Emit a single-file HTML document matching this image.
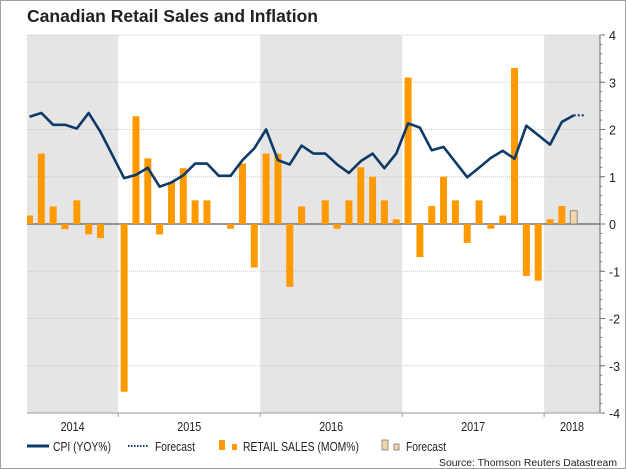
<!DOCTYPE html>
<html><head><meta charset="utf-8"><style>
body{margin:0;background:#fff;}
svg{display:block;font-family:"Liberation Sans",Arial,sans-serif;}
</style></head><body>
<svg id="chart" width="626" height="469" viewBox="0 0 626 469">
<rect x="0.5" y="0.5" width="625" height="468" fill="#fff" stroke="#a0a0a0"/>
<text x="27" y="22" font-size="17.5" font-weight="bold" fill="#222" textLength="291" lengthAdjust="spacingAndGlyphs">Canadian Retail Sales and Inflation</text>
<g id="bands"></g><g id="grid"></g><g id="bars"></g><g id="lines"></g><g id="axes"></g>
<g font-size="13" fill="#222">
<line x1="27" y1="446" x2="49" y2="446" stroke="#0d3a66" stroke-width="3"/>
<text x="53" y="451" textLength="58" lengthAdjust="spacingAndGlyphs">CPI (YOY%)</text>
<line x1="128" y1="446" x2="148" y2="446" stroke="#0d3a66" stroke-width="2" stroke-dasharray="1.5,1.5"/>
<text x="155" y="451" textLength="40" lengthAdjust="spacingAndGlyphs">Forecast</text>
<rect x="219" y="440" width="6" height="10" fill="#ff9900"/>
<rect x="232" y="444" width="5" height="6" fill="#ff9900"/>
<text x="243" y="451" textLength="116" lengthAdjust="spacingAndGlyphs">RETAIL SALES (MOM%)</text>
<rect x="382" y="440" width="6" height="10" fill="#f2d5a8" stroke="#777" stroke-width="0.8"/>
<rect x="394" y="444" width="5" height="6" fill="#f2d5a8" stroke="#777" stroke-width="0.8"/>
<text x="406" y="451" textLength="40" lengthAdjust="spacingAndGlyphs">Forecast</text>
</g>
<text x="617" y="466" font-size="10.5" fill="#222" text-anchor="end" textLength="178" lengthAdjust="spacingAndGlyphs">Source: Thomson Reuters Datastream</text>
</svg>
<script>
const years=["2014","2015","2016","2017","2018"];
const yTicks=[-4,-3,-2,-1,0,1,2,3,4];
// months from May 2014 to Mar 2018
const retail=[0.18,1.49,0.37,-0.11,0.5,-0.22,-0.3,0,
-3.55,2.28,1.39,-0.22,0.89,1.18,0.5,0.5,0,-0.1,1.28,-0.92,
1.49,1.49,-1.33,0.37,0,0.5,-0.1,0.5,1.2,1.0,0.5,0.1,
3.1,-0.7,0.38,1.0,0.5,-0.4,0.5,-0.1,0.18,3.3,-1.1,-1.2,
0.1,0.38];
const retailForecast=[0.28];
const cpi=[2.27,2.35,2.1,2.1,2.02,2.35,1.95,1.46,
0.97,1.04,1.19,0.79,0.88,1.03,1.28,1.28,1.02,1.02,1.35,1.6,
2.0,1.35,1.26,1.66,1.49,1.49,1.26,1.08,1.33,1.49,1.18,1.49,
2.13,2.04,1.56,1.63,1.31,0.99,1.19,1.4,1.55,1.38,2.08,1.88,
1.68,2.16,2.3];
const cpiForecast=[2.3,2.3];
const NS="http://www.w3.org/2000/svg";
const PL=27,PR=600,PT=35,PB=413,MW=11.83,X0=29.5;
const x=i=>X0+i*MW;
const y=v=>224-v*47.25;
function mk(tag,attrs,parent){const e=document.createElementNS(NS,tag);for(const k in attrs)e.setAttribute(k,attrs[k]);document.getElementById(parent).appendChild(e);return e;}
const yStart=i=>x(-4)-MW/2+i*12*MW;
years.forEach((yr,i)=>{
  const a=Math.max(PL,yStart(i)),b=Math.min(PR,yStart(i+1));
  if(i%2===0){const r=mk('rect',{x:a,y:PT,width:b-a,height:PB-PT,fill:'#e5e5e5'},'bands');
  
  }
  const t=mk('text',{x:(a+b)/2,y:431,'font-size':12.5,'text-anchor':'middle',fill:'#222',textLength:24,lengthAdjust:'spacingAndGlyphs'},'axes');t.textContent=yr;
  
  
  if(i>0){const tk=mk('line',{x1:a,x2:a,y1:PB,y2:PB+4,stroke:'#999'},'axes');
  
  }
});
yTicks.forEach(v=>{
  if(v!==0&&Math.abs(v)!==4){const g=mk('line',{x1:PL,x2:PR,y1:y(v),y2:y(v),stroke:'#c8c8c8','stroke-dasharray':'1,1'},'grid');
  
  }
  const t=mk('text',{x:609,y:y(v)+5,'font-size':12.5,fill:'#222'},'axes');t.textContent=v;
  
  
  const tk=mk('line',{x1:PR,x2:PR+5,y1:y(v),y2:y(v),stroke:'#666'},'axes');
  
  
});
for(let v=-4;v<=4.001;v+=0.2){const m=mk('line',{x1:PR,x2:PR+2.5,y1:y(v),y2:y(v),stroke:'#888'},'axes');

}
const topLine=mk('line',{x1:PL,x2:PR,y1:PT,y2:PT,stroke:'#ccc','stroke-dasharray':'1,1'},'grid');


const ax=mk('line',{x1:PR,x2:PR,y1:PT,y2:PB,stroke:'#666'},'axes');


const bx=mk('line',{x1:PL,x2:PR,y1:PB,y2:PB,stroke:'#999'},'axes');


const zl=mk('line',{x1:PL,x2:PR,y1:y(0),y2:y(0),stroke:'#777','stroke-width':1.5},'grid');


const bw=7;
retail.forEach((v,i)=>{
  if(v===0)return;
  let a=x(i)-bw/2,w=bw;if(a<PL){w-=PL-a;a=PL;}
  const r=mk('rect',{x:a,y:Math.min(y(v),y(0)),width:w,height:Math.abs(y(v)-y(0)),fill:'#ff9900'},'bars');
  
  
});
retailForecast.forEach((v,i)=>{
  const j=retail.length+i;
  const r=mk('rect',{x:x(j)-bw/2,y:Math.min(y(v),y(0)),width:bw,height:Math.abs(y(v)-y(0)),fill:'#f2d5a8',stroke:'#777','stroke-width':0.8},'bars');
  
  
});
const pts=cpi.map((v,i)=>x(i)+','+y(v)).join(' ');
const pl=mk('polyline',{points:pts,fill:'none',stroke:'#0d3a66','stroke-width':2.6,'stroke-linejoin':'round'},'lines');


const fp=cpiForecast.map((v,i)=>x(cpi.length-1+i)+','+y(v)).join(' ');
const fl=mk('polyline',{points:fp,fill:'none',stroke:'#0d3a66','stroke-width':2.2,'stroke-dasharray':'2,2'},'lines');


</script>
</body></html>
